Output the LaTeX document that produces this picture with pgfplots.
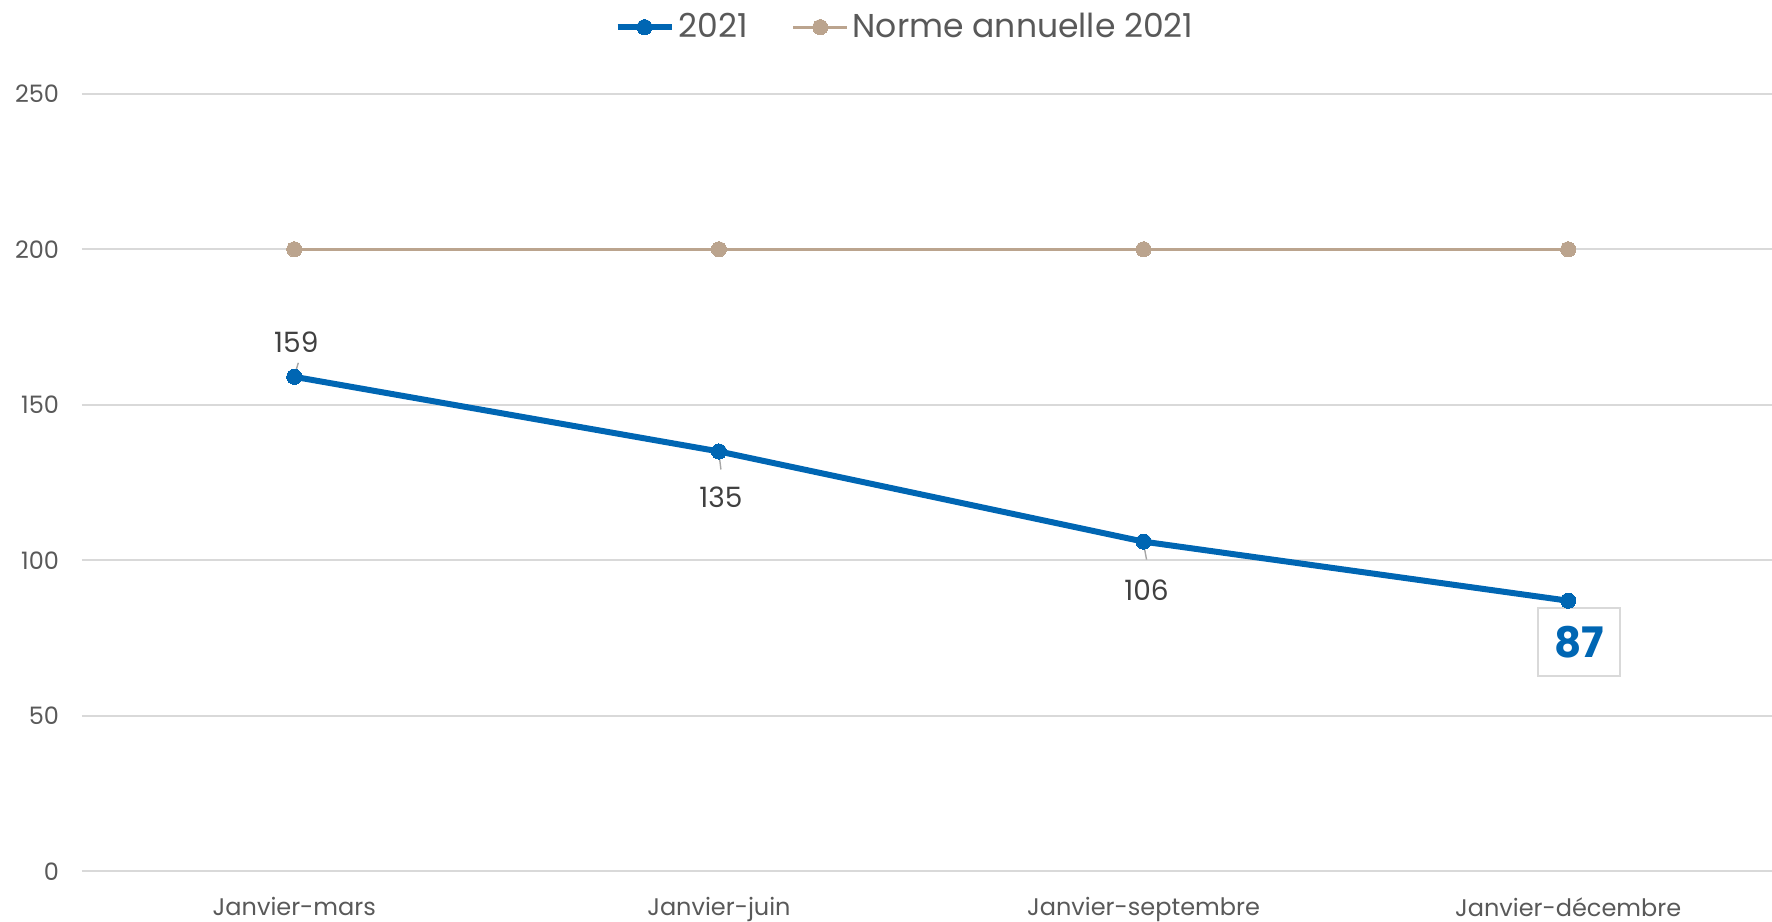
\documentclass[border=0pt]{standalone}
\usepackage{fontspec}
\setmainfont{Poppins}
\usepackage{pgfplots}
\pgfplotsset{compat=1.18}
\definecolor{blue21}{HTML}{0066B3}
\definecolor{norme}{HTML}{BBA48E}
\definecolor{gridc}{HTML}{D9D9D9}
\definecolor{txt}{HTML}{595959}
\definecolor{lab}{HTML}{404040}
\definecolor{leader}{HTML}{A6A6A6}
\begin{document}
\begin{tikzpicture}
\useasboundingbox (-41bp,-25bp) rectangle (845bp,435.65bp);
\begin{axis}[
  at={(0,0)}, anchor=south west,
  scale only axis, width=845bp, height=388.75bp,
  xmin=-0.5, xmax=3.48, ymin=0, ymax=250,
  axis line style={draw=none},
  ymajorgrids, grid style={gridc, line width=1bp},
  ytick={0,50,100,150,200,250},
  xtick={0,1,2,3},
  xticklabels={Janvier-mars,Janvier-juin,Janvier-septembre,Janvier-d\'ecembre},
  major tick length=0pt,
  /pgf/number format/assume math mode=true,
  tick label style={text=txt, font=\fontsize{12bp}{14bp}\selectfont},
  yticklabel style={xshift=-8bp},
  xticklabel style={yshift=-9.5bp},
  clip=false,
  legend style={draw=none, at={(0.4876,1.0857)}, anchor=center,
    font=\fontsize{16.5bp}{20bp}\selectfont, text=txt,
    /tikz/every even column/.append style={column sep=20bp}},
  legend columns=2,
  legend image code/.code={\draw[mark repeat=2,mark phase=2] plot coordinates {(0bp,0bp) (13.5bp,0bp) (27bp,0bp)};},
]
\addplot[blue21, line width=3bp, mark=*, mark size=3.8bp, mark options={fill=blue21, draw=blue21, line width=0pt}]
  coordinates {(0,159) (1,135) (2,106) (3,87)};
\addlegendentry{2021}
\addplot[norme, line width=1.5bp, mark=*, mark size=3.8bp, mark options={fill=norme, draw=norme, line width=0pt}]
  coordinates {(0,200) (1,200) (2,200) (3,200)};
\addlegendentry{Norme annuelle 2021}
% leader lines
\draw[leader, line width=0.7bp] (axis cs:0,159) ++(0.5bp,2bp) -- ++(1.5bp,5bp);
\draw[leader, line width=0.7bp] (axis cs:1,135) ++(0bp,-1bp) -- ++(1bp,-8bp);
\draw[leader, line width=0.7bp] (axis cs:2,106) ++(0bp,-1bp) -- ++(1.5bp,-8bp);
% data labels
\node[text=lab, font=\fontsize{14bp}{16bp}\selectfont, xshift=1bp, yshift=17.5bp] at (axis cs:0,159) {159};
\node[text=lab, font=\fontsize{14bp}{16bp}\selectfont, xshift=1bp, yshift=-23bp] at (axis cs:1,135) {135};
\node[text=lab, font=\fontsize{14bp}{16bp}\selectfont, xshift=1.5bp, yshift=-24.5bp] at (axis cs:2,106) {106};
\node[draw=gridc, line width=1bp, fill=white, text=blue21, font=\fontsize{21bp}{24bp}\selectfont\bfseries,
  minimum width=41bp, minimum height=34bp, inner sep=0pt, xshift=5.5bp, yshift=-20.5bp] at (axis cs:3,87) {87};
\end{axis}
\end{tikzpicture}
\end{document}
